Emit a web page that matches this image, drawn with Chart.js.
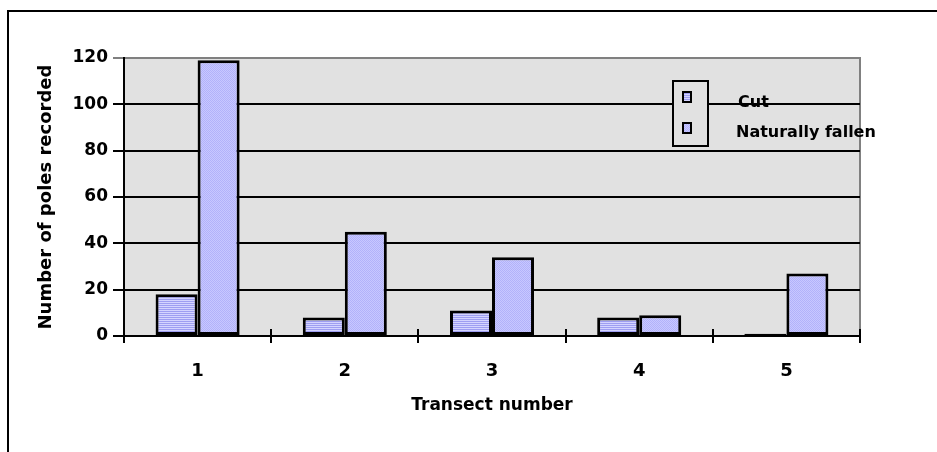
<!DOCTYPE html>
<html>
<head>
<meta charset="utf-8">
<script src="https://cdn.jsdelivr.net/npm/chart.js@4.4.1/dist/chart.umd.min.js"></script>
<style>
  html, body { margin: 0; padding: 0; background: #fff; }
  #wrap { width: 937px; height: 452px; }
</style>
</head>
<body>
<div id="wrap"><canvas id="chart" width="937" height="452"></canvas></div>
<script>
const transects = ['1', '2', '3', '4', '5'];
const cutPoles = [18, 8, 11, 8, 1];
const fallenPoles = [119, 45, 34, 9, 27];
const yTicks = [0, 20, 40, 60, 80, 100, 120];

const font = 'DejaVu Sans';

// little fill patterns like the old spreadsheet hatching
function makePattern(kind) {
  const c = document.createElement('canvas');
  c.width = 2;
  c.height = 2;
  const g = c.getContext('2d');
  if (kind == 'stripes') {
    g.fillStyle = '#d4d4ff';
    g.fillRect(0, 0, 2, 1);
    g.fillStyle = '#9e9ef2';
    g.fillRect(0, 1, 2, 1);
  } else {
    g.fillStyle = '#c8c8ff';
    g.fillRect(0, 0, 2, 2);
    g.fillStyle = '#b2b2fa';
    g.fillRect(0, 0, 1, 1);
    g.fillRect(1, 1, 1, 1);
  }
  return g.createPattern(c, 'repeat');
}

const ctx = document.getElementById('chart');
const cutFill = makePattern('stripes');
const fallenFill = makePattern('dots');

const framePlugin = {
  id: 'frame',
  beforeDraw(chart) {
    const c = chart.ctx;
    const a = chart.chartArea;
    c.save();
    c.fillStyle = '#000';
    c.fillRect(7, 10, 930, 2);
    c.fillRect(7, 10, 2, 442);
    c.fillStyle = '#e1e1e1';
    c.fillRect(a.left, a.top, a.right - a.left, a.bottom - a.top);
    c.strokeStyle = '#808080';
    c.lineWidth = 2;
    c.beginPath();
    c.moveTo(a.left, a.top);
    c.lineTo(a.right, a.top);
    c.lineTo(a.right, a.bottom);
    c.stroke();
    c.restore();
  },
  afterDraw(chart) {
    const c = chart.ctx;
    const x = chart.scales.x;
    const step = (x.right - x.left) / transects.length;
    c.save();
    // tick marks crossing the x axis at category edges
    c.strokeStyle = '#000';
    c.lineWidth = 2;
    for (let i = 0; i <= transects.length; i++) {
      const px = Math.round(x.left + i * step);
      c.beginPath();
      c.moveTo(px, x.top - 7);
      c.lineTo(px, x.top + 7);
      c.stroke();
    }
    // legend box
    c.fillStyle = '#e1e1e1';
    c.fillRect(673, 81, 35, 65);
    c.strokeStyle = '#000';
    c.lineWidth = 2;
    c.strokeRect(673, 81, 35, 65);
    const sets = chart.data.datasets;
    const rows = [{ y: 92, ty: 103, tx: 738 }, { y: 123, ty: 133, tx: 736 }];
    sets.forEach((ds, i) => {
      const r = rows[i];
      c.fillStyle = ds.backgroundColor;
      c.fillRect(683, r.y, 8, 10);
      c.lineWidth = 2;
      c.strokeRect(683, r.y, 8, 10);
      c.fillStyle = '#000';
      c.font = 'bold 16px ' + font;
      c.textBaseline = 'middle';
      c.fillText(ds.label, r.tx, r.ty);
    });
    c.restore();
  }
};

new Chart(
  ctx,
  {
    type: 'bar',
    plugins: [framePlugin],
    data: {
      labels: transects,
      datasets: [
        {
          label: 'Cut',
          data: cutPoles,
          backgroundColor: cutFill,
          borderColor: '#000',
          borderWidth: 3,
          borderSkipped: false
        },
        {
          label: 'Naturally fallen',
          data: fallenPoles,
          backgroundColor: fallenFill,
          borderColor: '#000',
          borderWidth: 3,
          borderSkipped: false
        }
      ]
    },
    options: {
      responsive: false,
      animation: false,
      events: [],
      layout: {
        padding: { top: 58, right: 77, bottom: 0, left: 0 }
      },
      plugins: {
        legend: { display: false },
        tooltip: { enabled: false }
      },
      datasets: {
        bar: { categoryPercentage: 0.571, barPercentage: 1 }
      },
      scales: {
        x: {
          grid: { display: false },
          border: { display: true, color: '#000', width: 2 },
          ticks: {
            color: '#000',
            padding: 17,
            font: { family: font, size: 18, weight: 'bold' }
          },
          title: {
            display: true,
            text: 'Transect number',
            color: '#000',
            padding: { top: 0, bottom: 36 },
            font: { family: font, size: 17, weight: 'bold' }
          },
          afterFit(scale) { scale.height = 116; }
        },
        y: {
          min: 0,
          max: 120,
          afterBuildTicks(scale) {
            scale.ticks = yTicks.map(v => ({ value: v }));
          },
          grid: {
            color: c => c.tick && c.tick.value == 120 ? '#808080' : '#000',
            lineWidth: 2,
            tickLength: 11
          },
          border: { display: true, color: '#000', width: 2 },
          ticks: {
            color: '#000',
            padding: 5,
            font: { family: font, size: 17, weight: 'bold' }
          },
          title: {
            display: true,
            text: 'Number of poles recorded',
            color: '#000',
            padding: { top: 36, bottom: 4 },
            font: { family: font, size: 18, weight: 'bold' }
          },
          afterFit(scale) { scale.width = 124; }
        }
      }
    }
  }
);
</script>
</body>
</html>
